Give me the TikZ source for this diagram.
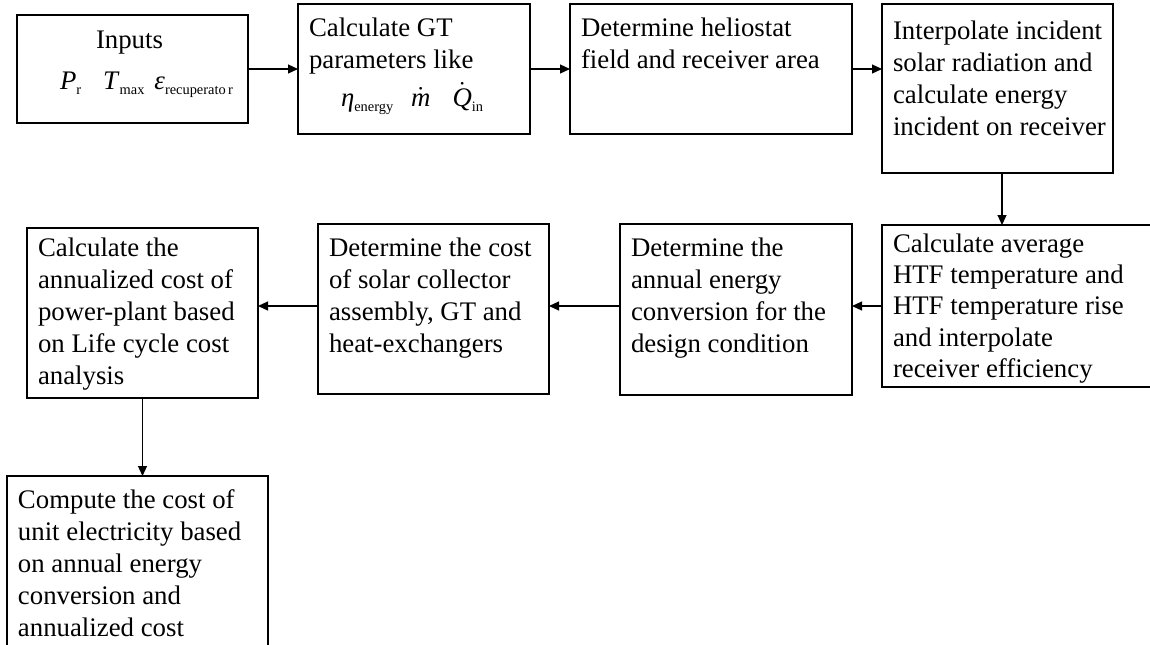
\documentclass[tikz,border=0pt]{standalone}
\usepackage{fontspec}
\setmainfont{Liberation Serif}
\usetikzlibrary{arrows.meta}

% box content: [top gap] width and height in picture units (px), lines set top-left
\newcommand{\boxtxt}[4][2pt]{\parbox[c][\dimexpr 0.5pt*#3-6pt\relax][t]{\dimexpr 0.5pt*#2-11pt\relax}{%
  \vspace*{#1}\begin{tabular}[t]{@{}l@{}}#4\end{tabular}}}
% small upright subscript for the symbols
\newcommand{\lo}[1]{\raisebox{-2.5pt}{\fontsize{7.2pt}{8pt}\selectfont #1}}

\tikzset{
  stepbox/.style={draw, line width=0.6pt, anchor=north west,
    inner xsep=5.5pt, inner ysep=3pt, outer sep=0pt,
    font=\fontsize{13.4pt}{16pt}\selectfont},
  flow/.style={-{Triangle[length=5pt,width=4.5pt]}, line width=0.6pt},
}

\begin{document}
\begin{tikzpicture}[x=0.5pt, y=-0.5pt]
\useasboundingbox (0,0) rectangle (1150,644);
\clip (0,0) rectangle (1150,644);
\fill[white] (0,0) rectangle (1150,644);

% top row
\node[stepbox] (inputs) at (17,15) {\parbox[c][\dimexpr 0.5pt*108-6pt\relax][t]{\dimexpr 0.5pt*231-11pt\relax}{%
  \vspace*{5pt}\makebox[\linewidth][c]{\hspace*{-3pt}Inputs}\par\vspace{4.5pt}
  \makebox[\linewidth][l]{\hspace*{16pt}\textit{P}\lo{r}\hspace{11pt}\textit{T}\lo{max}\hspace{5pt}\textit{ε}\lo{recuperato\,r}}}};
\node[stepbox] (gt) at (298,4) {\boxtxt{232}{130}{Calculate GT\\ parameters like\\[2pt]
  \hspace*{16pt}\textit{η}\lo{energy}\hspace{9pt}$\dot{\hbox{\itshape m}}$\hspace{11pt}$\dot{\hbox{\itshape Q}}$\lo{in}}};
\node[stepbox] (helio) at (570,4) {\boxtxt{282}{130}{Determine heliostat\\ field and receiver area}};
\node[stepbox] (interp) at (882,4) {\boxtxt[3.5pt]{231}{169}{Interpolate incident\\ solar radiation and\\ calculate energy\\ incident on receiver}};

% second row
\node[stepbox] (htf) at (882,225) {\boxtxt[-0.5pt]{283}{162}{Calculate average\\[-0.4pt] HTF temperature and\\[-0.4pt] HTF temperature rise\\[-0.4pt] and interpolate\\[-0.4pt] receiver efficiency}};
\node[stepbox] (annual) at (620,224) {\boxtxt{232}{171}{Determine the\\ annual energy\\ conversion for the\\ design condition}};
\node[stepbox] (cost) at (318,224) {\boxtxt{231}{170}{Determine the cost\\ of solar collector\\ assembly, GT and\\ heat-exchangers}};
\node[stepbox] (lcc) at (27,228) {\boxtxt[0pt]{231}{170}{Calculate the\\ annualized cost of\\ power-plant based\\ on Life cycle cost\\ analysis}};

% last step
\node[stepbox] (unit) at (7,476) {\boxtxt{261}{200}{Compute the cost of\\ unit electricity based\\ on annual energy\\ conversion and\\ annualized cost}};

% connectors
\draw[flow] (inputs.east) -- (gt.west);
\draw[flow] (gt.east) -- (helio.west);
\draw[flow] (helio.east) -- (helio.east -| interp.west);
\draw[flow] ([xshift=2.25pt]interp.south) -- ([xshift=2.25pt]interp.south |- htf.north);
\draw[flow] (htf.west) -- (htf.west -| annual.east);
\draw[flow] (annual.west |- htf.west) -- (cost.east |- htf.west);
\draw[flow] (cost.west |- htf.west) -- (lcc.east |- htf.west);
\draw[flow] (lcc.south) -- (lcc.south |- unit.north);
\end{tikzpicture}
\end{document}
